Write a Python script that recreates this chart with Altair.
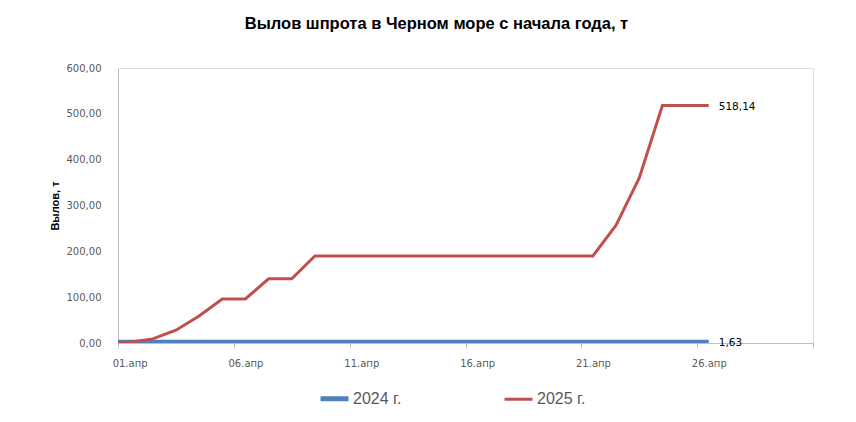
import altair as alt
import pandas as pd

# ---- data ----
dates = ["31.03", "01.04", "02.04", "03.04", "04.04", "05.04", "06.04", "07.04", "08.04",
         "09.04", "10.04", "11.04", "12.04", "13.04", "14.04", "15.04", "16.04", "17.04",
         "18.04", "19.04", "20.04", "21.04", "22.04", "23.04", "24.04", "25.04", "26.04"]
catch_2024 = [1.63] * 27
catch_2025 = [0.5, 1.5, 9, 28, 59, 96, 96, 140, 140, 190,
              190, 190, 190, 190, 190, 190, 190, 190, 190, 190, 190, 190,
              257, 360, 518.14, 518.14, 518.14]
series_names = ["2024 г.", "2025 г."]
series_colors = ["#4F81BD", "#C0504D"]
series_widths = [5, 3]
x_ticks = ["01.04", "06.04", "11.04", "16.04", "21.04", "26.04", "01.05"]
y_ticks = [0, 100, 200, 300, 400, 500, 600]

rows = []
for name, vals in zip(series_names, [catch_2024, catch_2025]):
    for d, v in zip(dates, vals):
        rows.append({"series": name, "date": d, "value": v})
df = pd.DataFrame(rows)
# each day's point sits in the middle of its day slot (Excel "between tick marks")
df["t"] = pd.to_datetime("2025-" + df["date"].str[3:5] + "-" + df["date"].str[0:2] + " 12:00")

tick_vals = [alt.DateTime(year=2025, month=int(s[3:5]), date=int(s[0:2])) for s in x_ticks]

FONT = "DejaVu Sans"
x_enc = alt.X("t:T",
              scale=alt.Scale(domain=[alt.DateTime(year=2025, month=4, date=1),
                                      alt.DateTime(year=2025, month=5, date=1)], nice=False),
              axis=alt.Axis(values=tick_vals, title=None, grid=False,
                            labelExpr="month(datum.value)==3 ? timeFormat(datum.value,'%d') + '.апр' : ''",
                            labelOffset=11.6, tickSize=5, labelPadding=10,
                            labelFont=FONT, labelFontSize=10, labelColor="#595959",
                            domainColor="#BFBFBF", tickColor="#BFBFBF", labelFlush=False))
y_enc = alt.Y("value:Q",
              scale=alt.Scale(domain=[0, 600], nice=False),
              axis=alt.Axis(values=y_ticks, grid=False, ticks=False, labelPadding=17,
                            labelExpr="replace(format(datum.value, '.2f'), '.', ',')",
                            labelFont=FONT, labelFontSize=10, labelColor="#595959",
                            domainColor="#BFBFBF",
                            title="Вылов, т", titleFont="Liberation Sans", titleFontSize=11,
                            titleFontWeight="bold", titleColor="#000000",
                            titleAngle=270, titleX=-63, titleY=137.5,
                            titleAlign="center", titleBaseline="middle"))

legend_cfg = dict(orient="none", legendX=200, legendY=314, direction="horizontal",
                  columns=2, columnPadding=96, title=None, symbolType="stroke",
                  symbolSize=784, labelOffset=2, labelFont="Liberation Sans",
                  labelFontSize=16, labelColor="#595959")

lines = alt.Chart(df).mark_line(clip=True, strokeCap="butt").encode(
    x=x_enc, y=y_enc,
    color=alt.Color("series:N", scale=alt.Scale(domain=series_names, range=series_colors),
                    legend=alt.Legend(**legend_cfg)),
    strokeWidth=alt.StrokeWidth("series:N",
                                scale=alt.Scale(domain=series_names, range=series_widths),
                                legend=alt.Legend(**legend_cfg)),
    detail="series:N",
)

labels = alt.Chart(df).transform_filter(
    alt.datum.date == "26.04"
).transform_calculate(
    label="replace(format(datum.value, '.2f'), '.', ',')"
).mark_text(align="left", baseline="middle", dx=10, dy=1, font=FONT, fontSize=10.5,
            color="#000000").encode(x="t:T", y="value:Q", text="label:N")

chart = alt.layer(lines, labels).properties(
    width=695, height=275,
    padding={"left": 110, "top": 60, "right": 30, "bottom": 70},
    autosize=alt.AutoSizeParams(type="none"),
    title=alt.TitleParams("Вылов шпрота в Черном море с начала года, т",
                          font="Liberation Sans", fontSize=16.5, fontWeight="bold",
                          color="#000000", anchor="middle", dx=-29, offset=31),
).configure_view(stroke=None).configure(background="#FFFFFF")

chart.save("out.html", embed_options={"renderer": "svg", "actions": False})
